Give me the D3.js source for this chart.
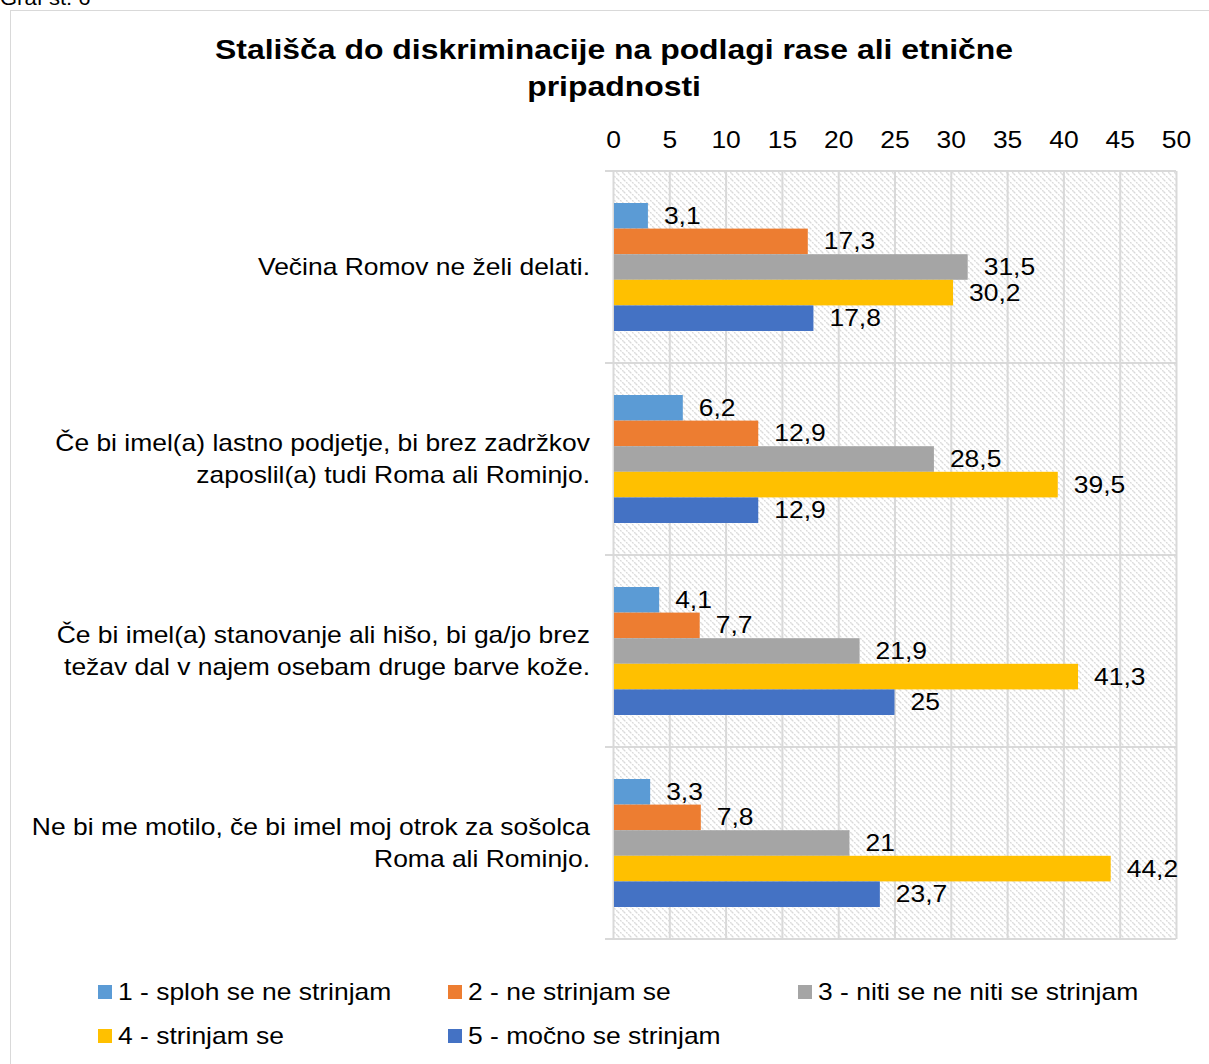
<!DOCTYPE html>
<html>
<head>
  <meta charset="utf-8">
  <title>Stališča do diskriminacije</title>
  <script src="https://cdn.jsdelivr.net/npm/d3@7/dist/d3.min.js"></script>
  <style>
    body { margin: 0; background: #fff; }
    text { font-family: Arial, "Liberation Sans", sans-serif; fill: #000; }
  </style>
</head>
<body>
<svg id="chart"></svg>
<script>
// chart data
var categories = [
  ["Večina Romov ne želi delati."],
  ["Če bi imel(a) lastno podjetje, bi brez zadržkov", "zaposlil(a) tudi Roma ali Rominjo."],
  ["Če bi imel(a) stanovanje ali hišo, bi ga/jo brez", "težav dal v najem osebam druge barve kože."],
  ["Ne bi me motilo, če bi imel moj otrok za sošolca", "Roma ali Rominjo."]
];
var series = ["1 - sploh se ne strinjam", "2 - ne strinjam se", "3 - niti se ne niti se strinjam",
              "4 - strinjam se", "5 - močno se strinjam"];
var colors = ["#5b9bd5", "#ed7d31", "#a5a5a5", "#ffc000", "#4472c4"];
var values = [
  [3.1, 17.3, 31.5, 30.2, 17.8],
  [6.2, 12.9, 28.5, 39.5, 12.9],
  [4.1, 7.7, 21.9, 41.3, 25],
  [3.3, 7.8, 21, 44.2, 23.7]
];
var ticks = [0, 5, 10, 15, 20, 25, 30, 35, 40, 45, 50];

var width = 1209, height = 1064;
var svg = d3.select("#chart").attr("width", width).attr("height", height);

// the original picture is a bit wider than tall, so text gets stretched
var SX = 1.15;
var FS = 23;

// place a text at (x,y) and stretch it horizontally
function txt(parent, x, y, size, sx) {
  return parent.append("text")
      .attr("transform", "translate(" + x + "," + y + ") scale(" + (sx || SX) + ",1)")
      .attr("font-size", size);
}

// plot area
var plotLeft = 613, plotRight = 1176, plotTop = 171, plotBottom = 939;

// hatch pattern for the plot background
var defs = svg.append("defs");
var pat = defs.append("pattern")
    .attr("id", "hatch")
    .attr("patternUnits", "userSpaceOnUse")
    .attr("width", 6).attr("height", 6);
pat.append("path")
    .attr("d", "M0,0 L6,6 M-3,3 L3,9 M3,-3 L9,3")
    .attr("stroke", "#d9d9d9")
    .attr("stroke-width", 1.3)
    .attr("stroke-dasharray", "2,1");

// caption, partly cut off at top
txt(svg, 0, 5, 20, 1.1).text("Graf št. 6");

// outer border
svg.append("rect")
    .attr("x", 10.5).attr("y", 10.5)
    .attr("width", 1300).attr("height", 1100)
    .attr("fill", "none").attr("stroke", "#d9d9d9").attr("stroke-width", 1);

// title
txt(svg, 614, 59, 28, 1.14).attr("text-anchor", "middle").attr("font-weight", "bold")
    .text("Stališča do diskriminacije na podlagi rase ali etnične");
txt(svg, 614, 96, 28, 1.14).attr("text-anchor", "middle").attr("font-weight", "bold")
    .text("pripadnosti");

var x = d3.scaleLinear().domain([0, 50]).range([plotLeft, plotRight]);
var y0 = d3.scaleBand().domain(d3.range(categories.length)).range([plotTop, plotBottom]);
var y1 = d3.scaleBand().domain(d3.range(series.length))
    .range([0, y0.bandwidth()]).paddingOuter(1.25);

// background
svg.append("rect")
    .attr("x", plotLeft).attr("y", plotTop)
    .attr("width", plotRight - plotLeft).attr("height", plotBottom - plotTop)
    .attr("fill", "url(#hatch)");

// vertical grid
svg.append("g").selectAll("line").data(ticks).join("line")
    .attr("x1", d => x(d) + 0.5).attr("x2", d => x(d) + 0.5)
    .attr("y1", plotTop).attr("y2", plotBottom)
    .attr("stroke", "#d9d9d9").attr("stroke-width", 2);

// horizontal category separators with outward ticks
var seps = d3.range(categories.length + 1).map(i => plotTop + i * y0.bandwidth());
svg.append("g").selectAll("line").data(seps).join("line")
    .attr("x1", plotLeft - 8).attr("x2", plotRight)
    .attr("y1", d => d).attr("y2", d => d)
    .attr("stroke", "#d9d9d9").attr("stroke-width", 2);

// top axis labels
var xAxis = d3.axisTop(x).tickValues(ticks).tickSize(0).tickPadding(0);
var ax = svg.append("g").attr("transform", "translate(0,148)").call(xAxis);
ax.select(".domain").remove();
ax.selectAll("text")
    .attr("font-size", FS)
    .attr("font-family", "Arial, 'Liberation Sans', sans-serif")
    .attr("transform", "scale(" + SX + ",1)");

// category labels
categories.forEach(function(lines, i) {
  var cy = y0(i) + y0.bandwidth() / 2;
  var start = cy - (lines.length - 1) * 16 + 8;
  lines.forEach(function(l, j) {
    txt(svg, 590, start + j * 32, FS).attr("text-anchor", "end").text(l);
  });
});

// bars
var groups = svg.append("g").selectAll("g").data(values).join("g")
    .attr("transform", (d, i) => "translate(0," + y0(i) + ")");
groups.selectAll("rect").data(d => d).join("rect")
    .attr("x", x(0) + 1)
    .attr("y", (d, j) => y1(j))
    .attr("width", d => x(d) - x(0) - 1)
    .attr("height", y1.bandwidth())
    .attr("fill", (d, j) => colors[j]);
groups.selectAll("text").data(d => d).join("text")
    .attr("font-size", FS)
    .attr("transform", (d, j) => "translate(" + (x(d) + 16) + "," + (y1(j) + y1.bandwidth() / 2 + 8) + ") scale(" + SX + ",1)")
    .text(d => String(d).replace(".", ","));

// legend
var legendPos = [[98, 992], [448, 992], [798, 992], [98, 1036], [448, 1036]];
var lg = svg.append("g").selectAll("g").data(series).join("g")
    .attr("transform", (d, i) => "translate(" + legendPos[i][0] + "," + legendPos[i][1] + ")");
lg.append("rect").attr("x", 0).attr("y", -7).attr("width", 14).attr("height", 14)
    .attr("fill", (d, i) => colors[i]);
lg.each(function(d) {
  txt(d3.select(this), 20, 8, FS).text(d);
});
</script>
</body>
</html>
